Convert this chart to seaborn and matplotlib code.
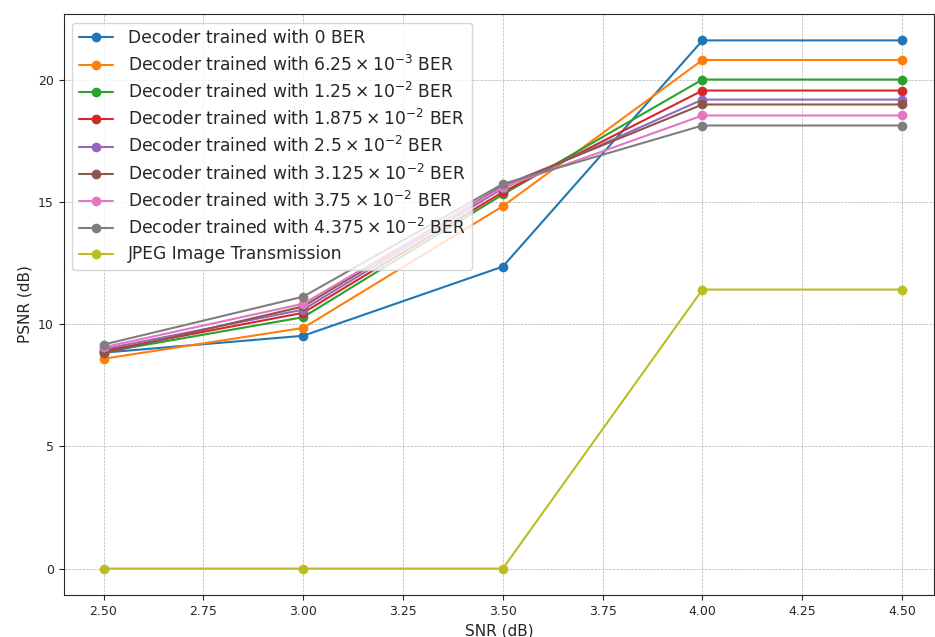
import matplotlib
matplotlib.use("Agg")
import matplotlib.pyplot as plt
import seaborn as sns
import pandas as pd

snr = [2.5, 3.0, 3.5, 4.0, 4.5]
labels = [
    "Decoder trained with 0 BER",
    r"Decoder trained with $6.25\times10^{-3}$ BER",
    r"Decoder trained with $1.25\times10^{-2}$ BER",
    r"Decoder trained with $1.875\times10^{-2}$ BER",
    r"Decoder trained with $2.5\times10^{-2}$ BER",
    r"Decoder trained with $3.125\times10^{-2}$ BER",
    r"Decoder trained with $3.75\times10^{-2}$ BER",
    r"Decoder trained with $4.375\times10^{-2}$ BER",
    "JPEG Image Transmission",
]
psnr_0 = [8.83, 9.52, 12.35, 21.6, 21.6]
psnr_1 = [8.58, 9.84, 14.82, 20.8, 20.8]
psnr_2 = [8.85, 10.28, 15.30, 20.0, 20.0]
psnr_3 = [8.90, 10.46, 15.40, 19.55, 19.55]
psnr_4 = [8.97, 10.59, 15.55, 19.18, 19.18]
psnr_5 = [8.80, 10.72, 15.65, 18.98, 18.98]
psnr_6 = [9.05, 10.83, 15.60, 18.53, 18.53]
psnr_7 = [9.16, 11.12, 15.73, 18.12, 18.12]
psnr_jpeg = [0.0, 0.0, 0.0, 11.41, 11.41]
series = [psnr_0, psnr_1, psnr_2, psnr_3, psnr_4, psnr_5, psnr_6, psnr_7, psnr_jpeg]

rows = []
for lab, vals in zip(labels, series):
    for x, y in zip(snr, vals):
        rows.append({"SNR": x, "PSNR": y, "Method": lab})
df = pd.DataFrame(rows)

sns.set_style("ticks")
plt.rcParams['font.family'] = ['DejaVu Sans']
fig, ax = plt.subplots(figsize=(9.35, 6.37), dpi=100)
palette = sns.color_palette("tab10", 9)
sns.lineplot(data=df, x="SNR", y="PSNR", hue="Method", hue_order=labels,
             palette=palette, marker="o", markersize=7, markeredgewidth=0,
             linewidth=1.5, ax=ax)
ax.set_xlabel("SNR (dB)", fontsize=11)
ax.set_ylabel("PSNR (dB)", fontsize=11)
ax.set_xticks([2.5, 2.75, 3.0, 3.25, 3.5, 3.75, 4.0, 4.25, 4.5])
ax.set_xticklabels(["2.50", "2.75", "3.00", "3.25", "3.50", "3.75", "4.00", "4.25", "4.50"])
ax.set_yticks([0, 5, 10, 15, 20])
ax.tick_params(labelsize=9)
ax.grid(True, linestyle="--", linewidth=0.5, color="#b0b0b0")
ax.set_xlim(2.4, 4.58)
ax.set_ylim(-1.08, 22.68)
leg = ax.legend(loc="upper left", fontsize=12.3, title=None, labelspacing=0.42,
                handletextpad=0.85)
for sp in ax.spines.values():
    sp.set_visible(True)
fig.subplots_adjust(left=0.068, right=0.999, top=0.978, bottom=0.066)
fig.savefig("out.png", dpi=100)
